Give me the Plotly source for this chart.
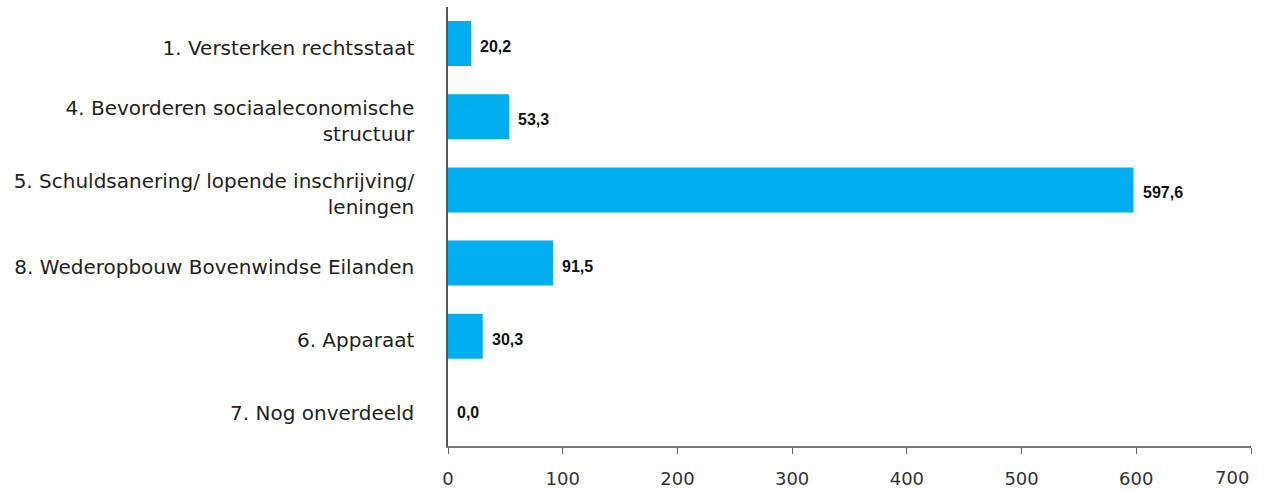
import plotly.graph_objects as go

categories = [
    "1. Versterken rechtsstaat",
    "4. Bevorderen sociaaleconomische<br>structuur",
    "5. Schuldsanering/ lopende inschrijving/<br>leningen",
    "8. Wederopbouw Bovenwindse Eilanden",
    "6. Apparaat",
    "7. Nog onverdeeld",
]
values = [20.2, 53.3, 597.6, 91.5, 30.3, 0.0]
value_labels = ["20,2", "53,3", "597,6", "91,5", "30,3", "0,0"]
x_ticks = [0, 100, 200, 300, 400, 500, 600, 700]

fig = go.Figure()
fig.add_trace(go.Bar(
    y=categories,
    x=values,
    orientation="h",
    marker=dict(color="#00AEEF", line=dict(width=0)),
    width=0.615,
    hoverinfo="skip",
))

# value labels right of each bar
for v, cat, lab in zip(values, categories, value_labels):
    fig.add_annotation(
        x=v, y=cat, xref="x", yref="y",
        text=lab, showarrow=False,
        xanchor="left", yanchor="middle",
        xshift=7, yshift=-3,
        font=dict(family="Liberation Sans", size=16, color="#111111", weight="bold"),
    )

# last tick label is right-aligned to stay inside the chart
tick_text = [str(t) for t in x_ticks]
tick_text[-1] = ""
fig.add_annotation(
    x=x_ticks[-1], xref="x", y=0, yref="paper",
    text=str(x_ticks[-1]), showarrow=False,
    xanchor="right", yanchor="top", yshift=-19,
    font=dict(family="DejaVu Sans", size=18, color="#333333"),
)

fig.update_layout(
    width=1264, height=491,
    margin=dict(l=448, r=13, t=7, b=45, autoexpand=False),
    paper_bgcolor="white",
    plot_bgcolor="white",
    showlegend=False,
    font=dict(family="DejaVu Sans", color="#231f20"),
)
fig.update_xaxes(
    automargin=False,
    range=[0, 700],
    tickvals=x_ticks,
    ticktext=tick_text,
    showgrid=False,
    zeroline=False,
    showline=True,
    linecolor="#777777",
    linewidth=1.5,
    ticks="outside",
    ticklen=6,
    tickcolor="#666666",
    tickfont=dict(family="DejaVu Sans", size=18, color="#333333"),
    ticklabelstandoff=10,
)
fig.update_yaxes(
    automargin=False,
    categoryorder="array",
    categoryarray=categories[::-1],
    showgrid=False,
    zeroline=False,
    showline=True,
    linecolor="#555555",
    linewidth=1.5,
    ticks="",
    tickfont=dict(family="DejaVu Sans", size=20, color="#231f20"),
    ticklabelstandoff=28,
    ticklabelshift=4,
)

fig.write_html(
    "out.html",
    config={"displayModeBar": False},
    post_script="document.body.style.margin='0';document.body.style.overflow='hidden';",
)
